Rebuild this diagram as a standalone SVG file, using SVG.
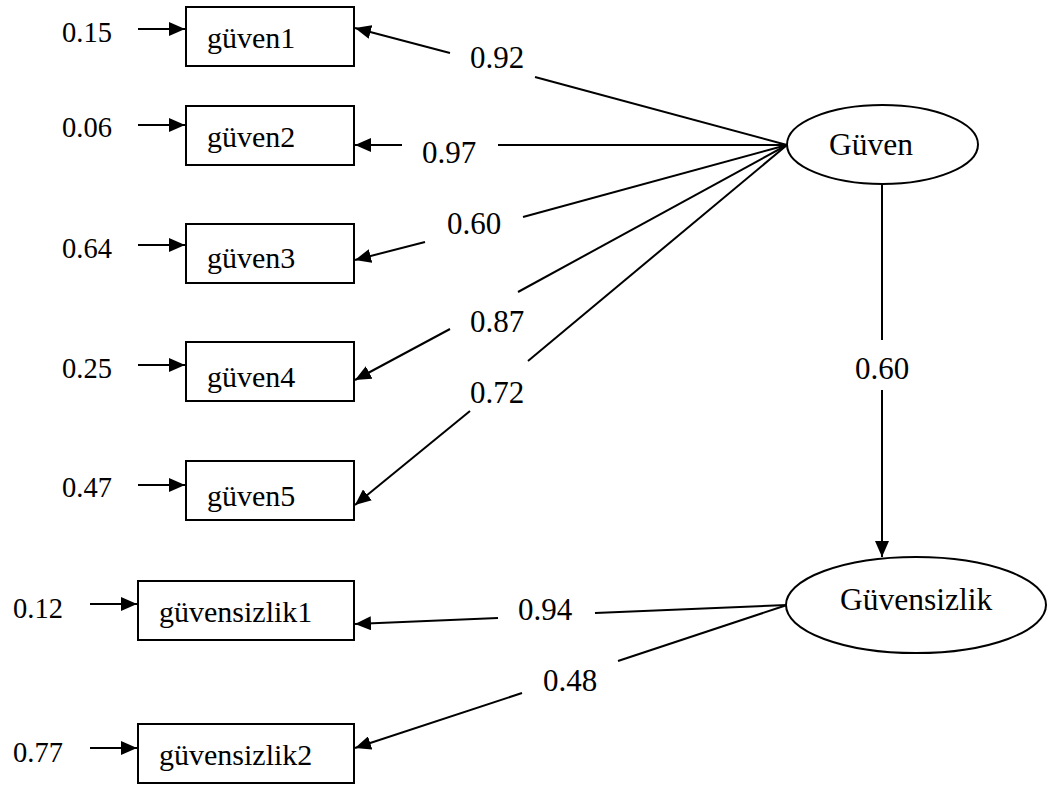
<svg xmlns="http://www.w3.org/2000/svg" width="1047" height="787" viewBox="0 0 1047 787">
<style>
text{font-family:"Liberation Serif","Times New Roman",serif;fill:#000}
.bt{font-size:30px}
.el{font-size:28.5px}
.pl{font-size:31px}
.lt{font-size:31.5px}
.box{fill:#fff;stroke:#000;stroke-width:2}
.ell{fill:#fff;stroke:#000;stroke-width:2}
.c line{stroke:#000;stroke-width:2}
</style>
<defs>
<marker id="ah" markerUnits="userSpaceOnUse" markerWidth="16" markerHeight="14" refX="16" refY="7" orient="auto">
<path d="M0,0 L16,7 L0,14 z" fill="#000"/>
</marker>
</defs>
<g id="connectors" class="c">
<line x1="787" y1="145" x2="535" y2="77"/>
<line x1="450" y1="53" x2="355" y2="28" marker-end="url(#ah)"/>
<line x1="787" y1="145" x2="498" y2="145"/>
<line x1="402" y1="145" x2="355" y2="145" marker-end="url(#ah)"/>
<line x1="787" y1="145" x2="523" y2="217"/>
<line x1="425" y1="242" x2="355" y2="260" marker-end="url(#ah)"/>
<line x1="787" y1="145" x2="518" y2="292"/>
<line x1="450" y1="329" x2="355" y2="380" marker-end="url(#ah)"/>
<line x1="787" y1="145" x2="528" y2="361"/>
<line x1="470" y1="411" x2="355" y2="505" marker-end="url(#ah)"/>
<line x1="882" y1="184" x2="882" y2="340"/>
<line x1="882" y1="390" x2="882" y2="557" marker-end="url(#ah)"/>
<line x1="787" y1="605" x2="595" y2="613"/>
<line x1="498" y1="618" x2="355" y2="624" marker-end="url(#ah)"/>
<line x1="787" y1="605" x2="618" y2="661"/>
<line x1="522" y1="693" x2="355" y2="748" marker-end="url(#ah)"/>
<line x1="138" y1="29" x2="185" y2="29" marker-end="url(#ah)"/>
<line x1="138" y1="125" x2="185" y2="125" marker-end="url(#ah)"/>
<line x1="138" y1="245" x2="185" y2="245" marker-end="url(#ah)"/>
<line x1="138" y1="365" x2="185" y2="365" marker-end="url(#ah)"/>
<line x1="138" y1="485" x2="185" y2="485" marker-end="url(#ah)"/>
<line x1="90" y1="604" x2="137" y2="604" marker-end="url(#ah)"/>
<line x1="90" y1="748" x2="137" y2="748" marker-end="url(#ah)"/>
</g>
<g id="path-labels">
<text class="pl" x="470" y="68">0.92</text>
<text class="pl" x="422" y="163">0.97</text>
<text class="pl" x="447" y="234">0.60</text>
<text class="pl" x="470" y="332">0.87</text>
<text class="pl" x="470" y="403">0.72</text>
<text class="pl" x="855" y="379">0.60</text>
<text class="pl" x="518" y="620">0.94</text>
<text class="pl" x="543" y="691">0.48</text>
</g>
<g id="error-labels">
<text class="el" x="62" y="42">0.15</text>
<text class="el" x="62" y="137">0.06</text>
<text class="el" x="62" y="258">0.64</text>
<text class="el" x="62" y="378">0.25</text>
<text class="el" x="62" y="497">0.47</text>
<text class="el" x="13" y="618">0.12</text>
<text class="el" x="13" y="762">0.77</text>
</g>
<g id="guven1"><rect class="box" x="186" y="7" width="168" height="59"/><text class="bt" x="207" y="48">güven1</text></g>
<g id="guven2"><rect class="box" x="186" y="106" width="168" height="59"/><text class="bt" x="207" y="147">güven2</text></g>
<g id="guven3"><rect class="box" x="186" y="224" width="168" height="59"/><text class="bt" x="207" y="268">güven3</text></g>
<g id="guven4"><rect class="box" x="186" y="342" width="168" height="59"/><text class="bt" x="207" y="387">güven4</text></g>
<g id="guven5"><rect class="box" x="186" y="461" width="168" height="59"/><text class="bt" x="207" y="506">güven5</text></g>
<g id="guvensizlik1"><rect class="box" x="138" y="581" width="216" height="59"/><text class="bt" x="159" y="622">güvensizlik1</text></g>
<g id="guvensizlik2"><rect class="box" x="138" y="724" width="216" height="59"/><text class="bt" x="159" y="765">güvensizlik2</text></g>
<g id="Guven"><ellipse class="ell" cx="882.5" cy="144.5" rx="95.5" ry="39.5"/><text class="lt" x="829" y="155">Güven</text></g>
<g id="Guvensizlik"><ellipse class="ell" cx="916" cy="605" rx="130" ry="48"/><text class="lt" x="840" y="610">Güvensizlik</text></g>
</svg>
